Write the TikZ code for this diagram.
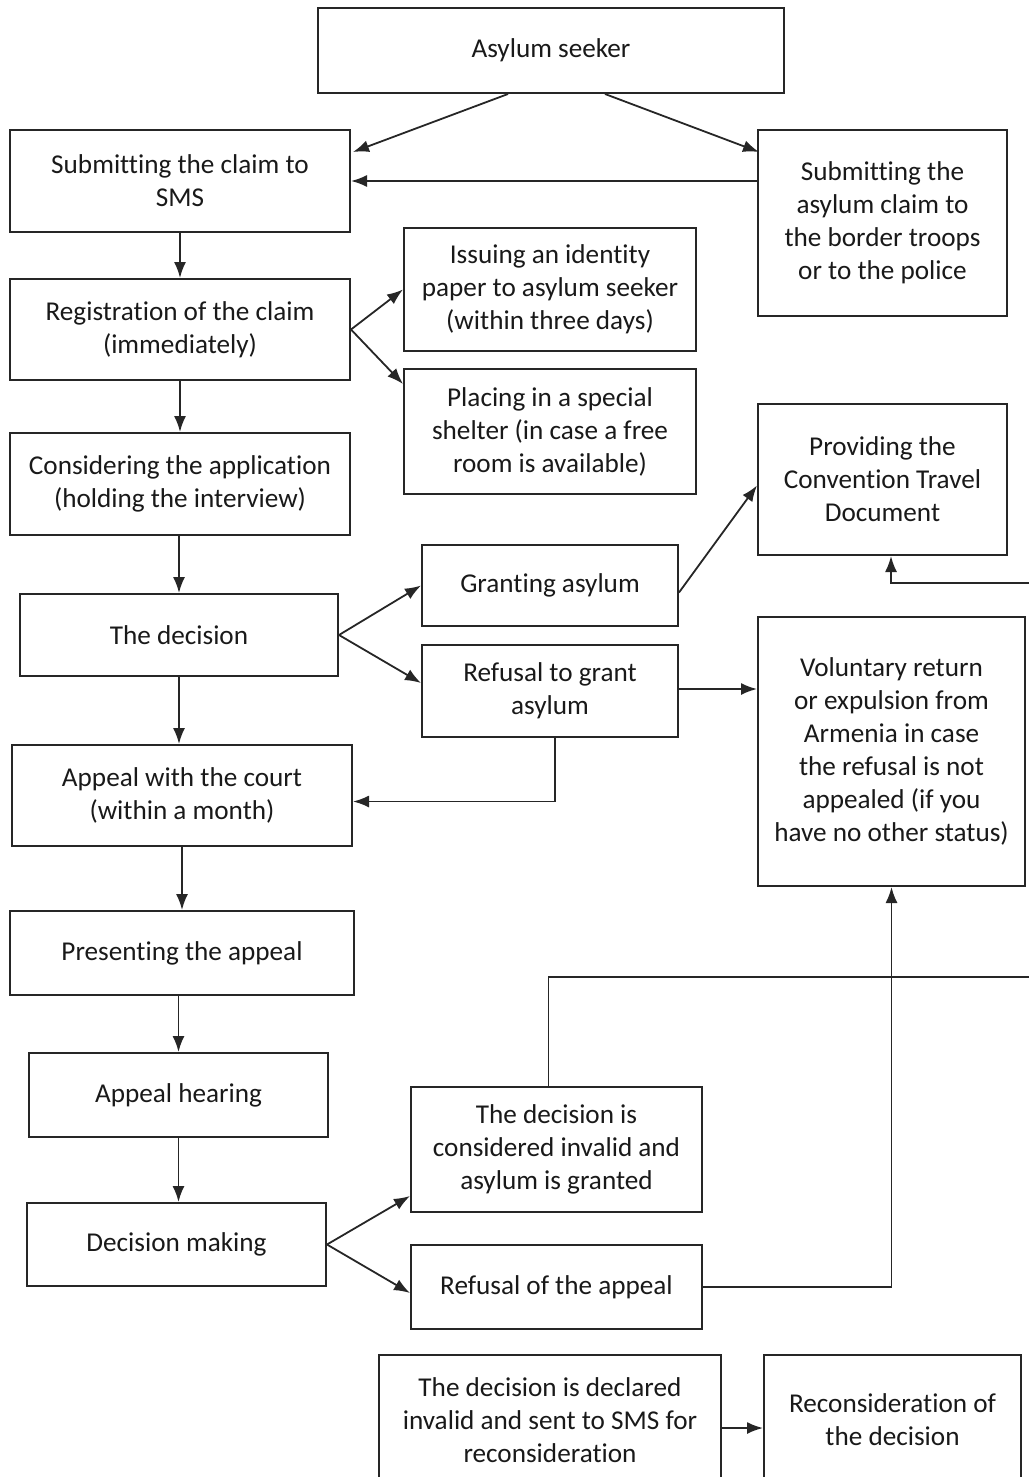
\documentclass[tikz,border=0pt]{standalone}
\usepackage{fontspec}
\setmainfont[Ligatures=NoCommon]{Carlito}
\usetikzlibrary{arrows.meta,calc}
\begin{document}
\begin{tikzpicture}[x=0.5pt,y=-0.5pt,
  box/.style={draw=black!85,line width=1pt,align=center,inner sep=2pt,
    font=\fontsize{13.6pt}{16.5pt}\selectfont,text=black!90},
  arr/.style={draw=black!85,line width=0.9pt,-{Latex[length=8pt,width=6pt]}},
  ln/.style={draw=black!85,line width=0.9pt}]
\useasboundingbox (0,0) rectangle (1028,1477);
\node[box,minimum width=233pt,minimum height=42.5pt] (seeker) at (551,50.5) {Asylum seeker};
\node[box,minimum width=170pt,minimum height=51pt] (sms) at (180,181) {Submitting the claim to\\SMS};
\node[box,minimum width=124.5pt,minimum height=93pt] (border) at (882.5,223) {Submitting the\\asylum claim to\\the border troops\\or to the police};
\node[box,minimum width=170pt,minimum height=50.5pt] (reg) at (180,329.5) {Registration of the claim\\(immediately)};
\node[box,minimum width=146pt,minimum height=61.5pt] (issue) at (550,289.5) {Issuing an identity\\paper to asylum seeker\\(within three days)};
\node[box,minimum width=146pt,minimum height=62.5pt] (shelter) at (550,431.5) {Placing in a special\\shelter (in case a free\\room is available)};
\node[box,minimum width=170pt,minimum height=51pt] (consider) at (180,484) {Considering the application\\(holding the interview)};
\node[box,minimum width=124.5pt,minimum height=75.5pt] (ctd) at (882.5,479.5) {Providing the\\Convention Travel\\Document};
\node[box,minimum width=128pt,minimum height=40.5pt] (grant) at (550,585.5) {Granting asylum};
\node[box,minimum width=159pt,minimum height=41pt] (decision) at (179,635) {The decision};
\node[box,minimum width=128pt,minimum height=46pt] (refuse) at (550,691) {Refusal to grant\\asylum};
\node[box,minimum width=133.5pt,minimum height=134.5pt] (volun) at (891.5,751.5) {Voluntary return\\or expulsion from\\Armenia in case\\the refusal is not\\appealed (if you\\have no other status)};
\node[box,minimum width=170pt,minimum height=50.5pt] (appeal) at (182,795.5) {Appeal with the court\\(within a month)};
\node[box,minimum width=172pt,minimum height=42pt] (present) at (182,953) {Presenting the appeal};
\node[box,minimum width=149.5pt,minimum height=42pt] (hearing) at (178.5,1095) {Appeal hearing};
\node[box,minimum width=145.5pt,minimum height=62.5pt] (invalid) at (556.5,1149.5) {The decision is\\considered invalid and\\asylum is granted};
\node[box,minimum width=149.5pt,minimum height=41.5pt] (making) at (176.5,1244.5) {Decision making};
\node[box,minimum width=145.5pt,minimum height=42pt] (refappeal) at (556.5,1287) {Refusal of the appeal};
\node[box,minimum width=171pt,minimum height=65pt] (declared) at (550,1420) {The decision is declared\\invalid and sent to SMS for\\reconsideration};
\node[box,minimum width=128.5pt,minimum height=65pt] (recons) at (892.5,1420) {Reconsideration of\\the decision};
\coordinate (e1) at (1032,977);
\coordinate (e2) at (1032,583);
% connectors
\draw[arr] ($(seeker.south)+(-43,0)$) -- ($(sms.north east)+(2,23)$);
\draw[arr] ($(seeker.south)+(54,0)$) -- ($(border.north west)+(2,23)$);
\draw[arr] (border.west |- sms.east) -- (sms.east);
\draw[arr] (sms.south) -- (reg.north);
\draw[arr] (reg.east) -- (issue.west);
\draw[arr] (reg.east) -- ($(shelter.north west)+(0,16)$);
\draw[arr] (reg.south) -- (consider.north);
\draw[arr] (consider.south) -- (decision.south |- consider.south) -- (decision.north);
\draw[arr] (decision.east) -- (grant.west);
\draw[arr] (decision.east) -- ($(refuse.west)+(0,-8)$);
\draw[arr] ($(grant.east)+(0,7)$) -- ($(ctd.west)+(0,6)$);
\draw[arr] ($(refuse.east)+(0,-2)$) -- ($(volun.west |- refuse.east)+(0,-2)$);
\draw[arr] ($(refuse.south)+(5,0)$) |- ($(appeal.east)+(0,6)$);
\draw[arr] (decision.south) -- (decision.south |- appeal.north);
\draw[arr] (appeal.south) -- (present.north);
\draw[arr] (hearing.north |- present.south) -- (hearing.north);
\draw[arr] (hearing.south) -- (hearing.south |- making.north);
\draw[arr] (making.east) -- ($(invalid.south west)+(0,-17)$);
\draw[arr] (making.east) -- ($(refappeal.west)+(0,6)$);
\draw[arr] (refappeal.east) -| (volun.south);
\draw[ln] ($(invalid.north)+(-8,0)$) |- (e1);
\draw[arr] (e2) -| ($(ctd.south)+(8.5,0)$);
\draw[arr] ($(declared.east)+(0,8)$) -- ($(recons.west)+(0,8)$);
\end{tikzpicture}
\end{document}
